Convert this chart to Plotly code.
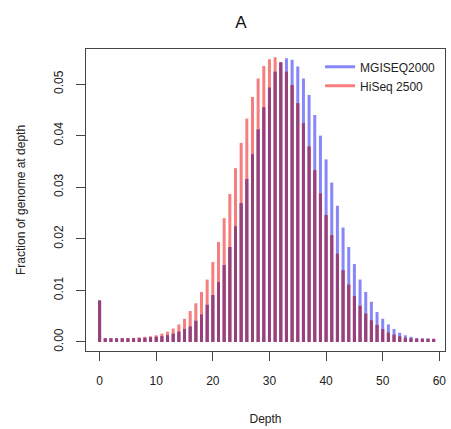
import plotly.graph_objects as go

depth = list(range(60))

mgiseq2000 = [
    0.0081, 0.0007, 0.0007, 0.0007, 0.0007, 0.0007, 0.0007, 0.0007, 0.0008, 0.0009,
    0.0010, 0.0011, 0.0013, 0.0016, 0.0020, 0.0025, 0.0030, 0.0041, 0.0053, 0.0072,
    0.0091, 0.0116, 0.0149, 0.0184, 0.0224, 0.0269, 0.0316, 0.0364, 0.0412, 0.0455,
    0.0493, 0.0524, 0.0542, 0.0550, 0.0547, 0.0534, 0.0511, 0.0479, 0.0440, 0.0400,
    0.0354, 0.0309, 0.0264, 0.0222, 0.0184, 0.0151, 0.0121, 0.0097, 0.0078, 0.0058,
    0.0045, 0.0034, 0.0025, 0.0018, 0.0013, 0.0010, 0.0008, 0.0007, 0.0007, 0.0006,
]

hiseq2500 = [
    0.0080, 0.0007, 0.0007, 0.0007, 0.0007, 0.0007, 0.0008, 0.0009, 0.0010, 0.0011,
    0.0013, 0.0016, 0.0020, 0.0026, 0.0034, 0.0045, 0.0060, 0.0075, 0.0097, 0.0121,
    0.0155, 0.0194, 0.0240, 0.0287, 0.0337, 0.0386, 0.0433, 0.0475, 0.0511, 0.0535,
    0.0548, 0.0552, 0.0543, 0.0524, 0.0498, 0.0463, 0.0424, 0.0379, 0.0333, 0.0288,
    0.0246, 0.0207, 0.0171, 0.0139, 0.0111, 0.0089, 0.0070, 0.0055, 0.0042, 0.0033,
    0.0025, 0.0018, 0.0014, 0.0011, 0.0008, 0.0007, 0.0006, 0.0006, 0.0006, 0.0006,
]

series_names = ["MGISEQ2000", "HiSeq 2500"]
series_colors = ["rgba(70,70,245,0.65)", "rgba(240,40,40,0.6)"]
overlap_color = "rgb(150,64,124)"

x_ticks = [0, 10, 20, 30, 40, 50, 60]
y_ticks = [0.00, 0.01, 0.02, 0.03, 0.04, 0.05]


def segments(xs, ys):
    sx, sy = [], []
    for xv, yv in zip(xs, ys):
        sx += [xv, xv, None]
        sy += [0, yv, None]
    return sx, sy


fig = go.Figure()
for name, vals, col in zip(series_names, [mgiseq2000, hiseq2500], series_colors):
    sx, sy = segments(depth, vals)
    fig.add_trace(go.Scatter(x=sx, y=sy, mode="lines", name=name,
                             line=dict(color=col, width=3),
                             connectgaps=False, hoverinfo="skip"))

# overlapping part of the two semi-transparent bars
ox, oy = segments(depth, [min(a, b) for a, b in zip(mgiseq2000, hiseq2500)])
fig.add_trace(go.Scatter(x=ox, y=oy, mode="lines", showlegend=False,
                         line=dict(color=overlap_color, width=3),
                         connectgaps=False, hoverinfo="skip"))

font_family = "Liberation Sans, Arial, Helvetica, sans-serif"

fig.update_layout(
    width=451, height=429,
    margin=dict(l=86, r=6, t=49, b=78, autoexpand=False),
    paper_bgcolor="white", plot_bgcolor="white",
    font=dict(family=font_family, size=12, color="#222"),
    title=dict(text="A", x=241 / 451, xref="container", xanchor="center",
               y=1 - 22 / 429, yref="container", yanchor="middle",
               font=dict(size=17, color="#111")),
    showlegend=True,
    legend=dict(x=0.652, y=0.989, xanchor="left", yanchor="top",
                bgcolor="rgba(0,0,0,0)", font=dict(size=12, color="#222"),
                tracegroupgap=0),
)

fig.update_xaxes(
    range=[-2.4, 61.0], tickvals=x_ticks, ticktext=[str(v) for v in x_ticks],
    showgrid=False, zeroline=False, showline=True, mirror=True, automargin=False,
    linecolor="#444", linewidth=1, ticks="outside", ticklen=9, tickcolor="#444",
    ticklabelstandoff=10, tickfont=dict(size=12),
    title=dict(text="Depth", standoff=27, font=dict(size=12)),
)
fig.update_yaxes(
    range=[-0.00175, 0.0568], tickvals=y_ticks, ticktext=["%.2f" % v for v in y_ticks],
    tickangle=-90,
    showgrid=False, zeroline=False, showline=True, mirror=True, automargin=False,
    linecolor="#444", linewidth=1, ticks="outside", ticklen=9, tickcolor="#444",
    ticklabelstandoff=8, tickfont=dict(size=12),
    title=dict(text="Fraction of genome at depth", standoff=24, font=dict(size=12)),
)

fig.write_html("out.html",
               config={"displayModeBar": False},
               post_script="document.body.style.margin='0';document.body.style.padding='0';")
